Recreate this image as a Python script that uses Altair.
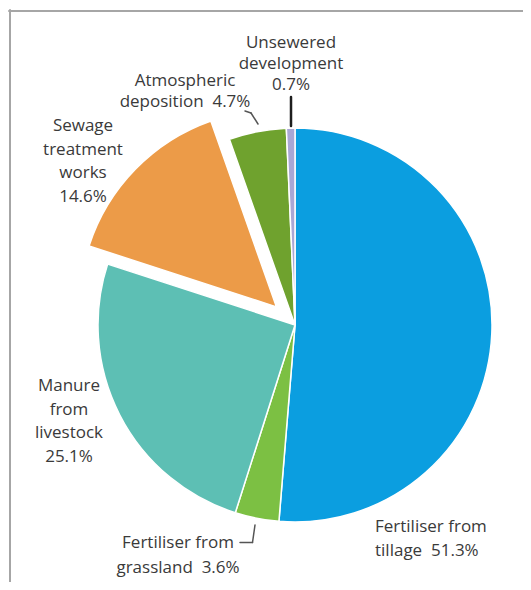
import altair as alt
import pandas as pd
import numpy as np

# ---- data ----
categories = [
    "Fertiliser from tillage",
    "Fertiliser from grassland",
    "Manure from livestock",
    "Sewage treatment works",
    "Atmospheric deposition",
    "Unsewered development",
]
values = [51.3, 3.6, 25.1, 14.6, 4.7, 0.7]
label_lines = [
    ["Fertiliser from", "tillage"],
    ["Fertiliser from", "grassland"],
    ["Manure", "from", "livestock"],
    ["Sewage", "treatment", "works"],
    ["Atmospheric", "deposition"],
    ["Unsewered", "development"],
]
colors = ["#0b9ee0", "#7cc043", "#5dbfb4", "#ec9b48", "#6fa22e", "#aaa7d5"]
exploded = "Sewage treatment works"

# ---- layout / style ----
W, H = 515, 574
CX, CY, R = 286, 317, 197
EXPLODE = 26
FONT = "Open Sans"
FS = 17
TXT = "#3a3a3a"
label_layout = {
    "Fertiliser from tillage": dict(x=366, y=524, align="left", lh=23.5, newline=False),
    "Fertiliser from grassland": dict(x=169, y=540, align="center", lh=24.5, newline=False),
    "Manure from livestock": dict(x=60, y=383, align="center", lh=23.7, newline=True),
    "Sewage treatment works": dict(x=74, y=123, align="center", lh=23.7, newline=True),
    "Atmospheric deposition": dict(x=176, y=78, align="center", lh=21, newline=False),
    "Unsewered development": dict(x=282, y=40, align="center", lh=21, newline=True),
}

end = np.cumsum(values)
start = np.concatenate([[0.0], end[:-1]])
df = pd.DataFrame({"category": categories, "value": values, "start": start, "end": end})

theta_scale = alt.Scale(domain=[0, 100])
color_scale = alt.Scale(domain=categories, range=colors)


def arcs(data, cx, cy):
    return alt.Chart(data).mark_arc(radius=R, stroke="white", strokeWidth=1.5).encode(
        theta=alt.Theta("start:Q", scale=theta_scale, stack=False),
        theta2="end:Q",
        color=alt.Color("category:N", scale=color_scale, legend=None),
        x=alt.value(cx),
        y=alt.value(cy),
    )


df_main = df[df["category"] != exploded]
df_exp = df[df["category"] == exploded]
mid = float((df_exp["start"].iloc[0] + df_exp["end"].iloc[0]) / 2) / 100 * 2 * np.pi
dx = EXPLODE * np.sin(mid)
dy = -EXPLODE * np.cos(mid)

layers = [arcs(df_main, CX, CY), arcs(df_exp, CX + dx, CY + dy)]

one = pd.DataFrame({"k": [0]})


def seg(x1, y1, x2, y2, color="#555555", w=1.5):
    return alt.Chart(one).mark_rule(color=color, strokeWidth=w, strokeCap="round").encode(
        x=alt.value(x1), y=alt.value(y1), x2=alt.value(x2), y2=alt.value(y2)
    )


# leader lines
layers += [
    seg(282, 89, 282, 118, color="#1e1e1e", w=2.5),
    seg(236, 103, 242, 105),
    seg(242, 105, 249, 116),
    seg(231, 534.5, 243.5, 534.5),
    seg(243.5, 534.5, 246, 517),
]

# labels
for cat, val, lines in zip(categories, values, label_lines):
    lay = label_layout[cat]
    ls = list(lines)
    pct = f"{val:.1f}%"
    if lay["newline"]:
        ls.append(pct)
    else:
        ls[-1] = ls[-1] + "\u00a0\u00a0" + pct
    tdf = pd.DataFrame({"category": [cat], "text": ["\n".join(ls)]})
    layers.append(
        alt.Chart(tdf).mark_text(
            font=FONT, fontSize=FS, color=TXT, align=lay["align"], baseline="alphabetic",
            lineBreak="\n", lineHeight=lay["lh"],
        ).encode(text="text:N", x=alt.value(lay["x"]), y=alt.value(lay["y"]))
    )

# frame
layers += [
    seg(0, 3, W, 3, color="#a6a6a6", w=2),
    seg(1, 2, 1, H, color="#a6a6a6", w=2),
]

chart = alt.layer(*layers).properties(
    width=W, height=H, padding=0,
    autosize=alt.AutoSizeParams(type="fit", contains="padding"),
).configure_view(stroke=None)

chart.save("out.html", embed_options={"renderer": "svg", "actions": False})
